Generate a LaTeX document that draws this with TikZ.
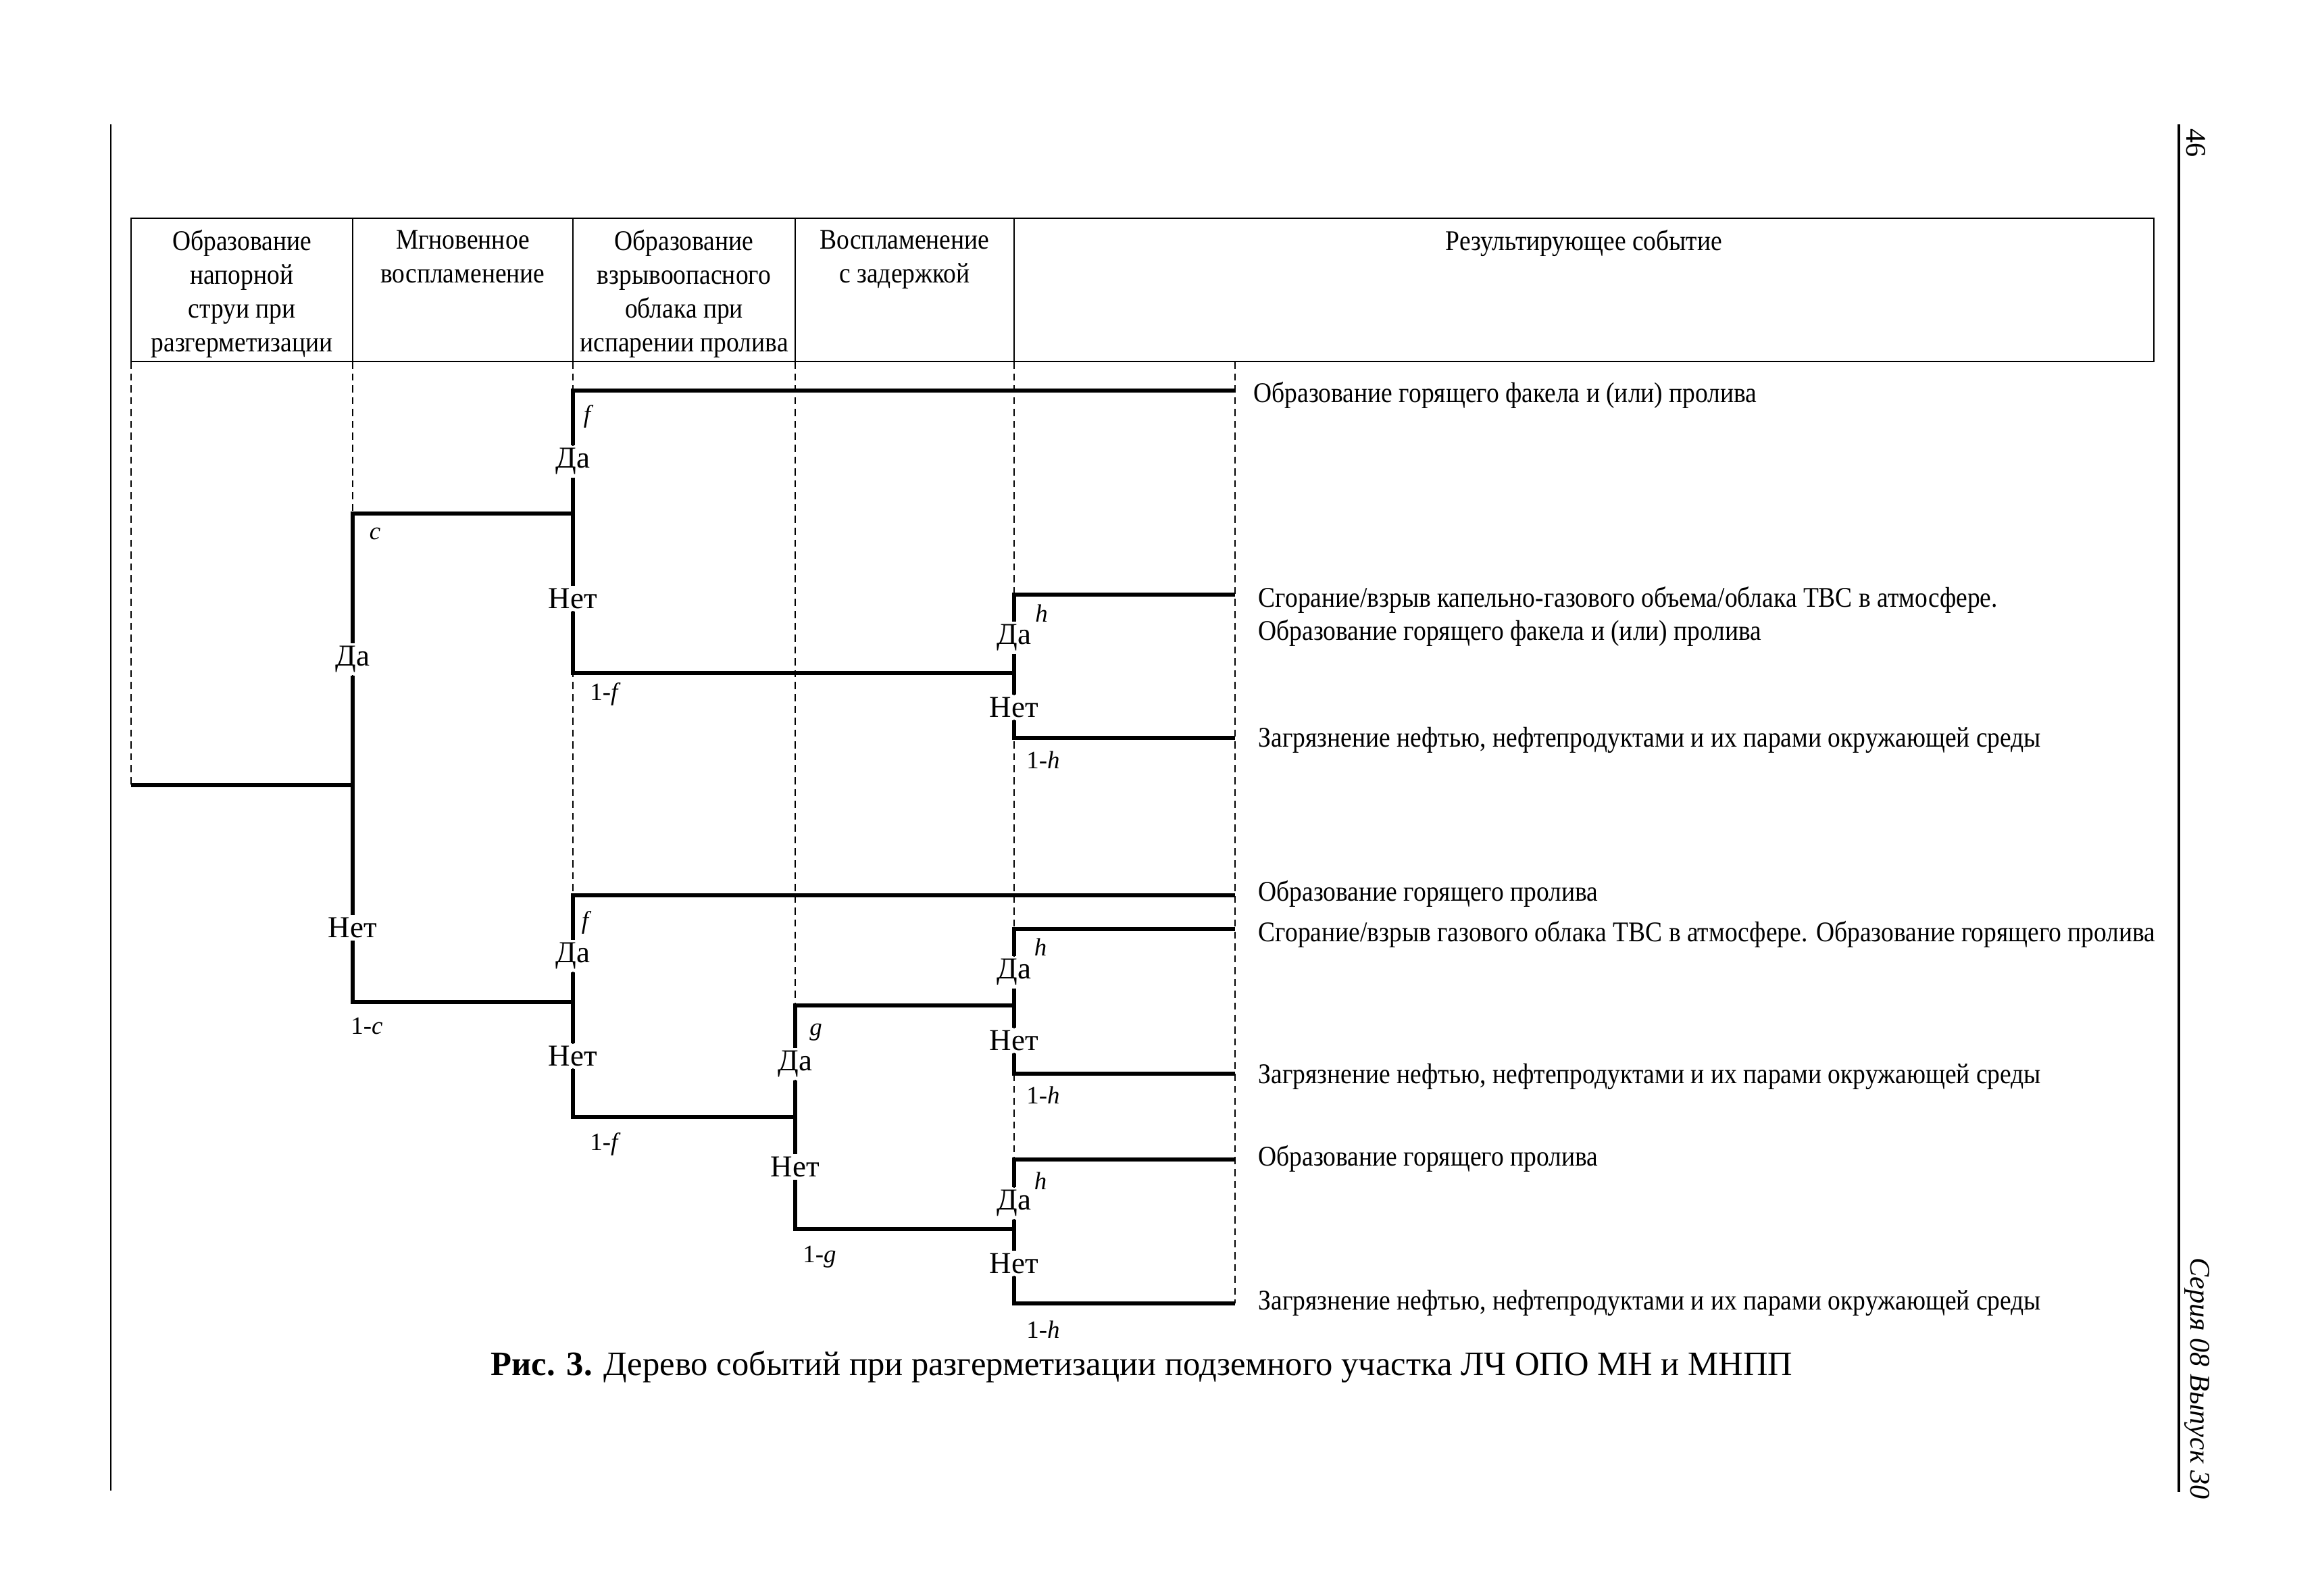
\documentclass[tikz,border=0pt]{standalone}
\usepackage{fontspec}
\setmainfont{Liberation Serif}
\newfontfamily\narrowfont[FakeStretch=0.89]{Liberation Serif}
\usetikzlibrary{positioning}

\begin{document}
\begin{tikzpicture}
        \tikzset{every node/.style = {inner sep=1pt, font=\fontsize{12pt}{14.2pt}\selectfont},
                 branch/.style = {line width=1.5pt},
                 grid/.style = {dash pattern=on 3pt off 2pt, line width=0.4pt},
                 frame/.style = {line width=0.75pt},
                 answer/.style = {fill=white, font=\fontsize{12.8pt}{15pt}\selectfont},
                 prob/.style = {font=\fontsize{10.5pt}{12pt}\selectfont},
                 result/.style = {anchor=base west, inner sep=0pt, align=left, font=\narrowfont\fontsize{12pt}{14.2pt}\selectfont},
                 head/.style = {anchor=north, inner sep=0pt, align=center, font=\narrowfont\fontsize{12pt}{14.2pt}\selectfont}}

        \useasboundingbox (0,0) rectangle (34.25,-23.62);

        \draw[line width=0.8pt] (1.64,-1.84) -- (1.64,-22.06);
        \draw[line width=0.9pt] (32.25,-1.84) -- (32.25,-22.08);
        \node[rotate=-90] (page) at (32.50,-2.12) {46};
        \node[rotate=-90, font=\fontsize{12pt}{14pt}\selectfont\itshape] (series) at (32.52,-20.40) {Серия 08 Выпуск 30};

        \draw[frame] (1.94,-3.23) rectangle (31.88,-5.35);
        \foreach \x in {5.22, 8.48, 11.77, 15.01}
            \draw[frame] (\x,-3.23) -- (\x,-5.35);

        \node[head] (h1) at (3.58,-3.40) {Образование\\напорной\\струи при\\разгерметизации};
        \node[head] (h2) at (6.85,-3.40) {Мгновенное\\воспламенение};
        \node[head] (h3) at (10.125,-3.40) {Образование\\взрывоопасного\\облака при\\испарении пролива};
        \node[head] (h4) at (13.39,-3.40) {Воспламенение\\с задержкой};
        \node[head] (h5) at (23.445,-3.40) {Результирующее событие};

        \draw[grid] (1.94,-5.35) -- (1.94,-11.62);
        \draw[grid] (5.22,-5.35) -- (5.22,-14.83);
        \draw[grid] (8.48,-5.35) -- (8.48,-16.53);
        \draw[grid] (11.77,-5.35) -- (11.77,-18.19);
        \draw[grid] (15.01,-5.35) -- (15.01,-19.29);
        \draw[grid] (18.28,-5.35) -- (18.28,-19.29);

        \coordinate (s) at (1.94,-11.62);
        \coordinate (a) at (5.22,-11.62);
        \coordinate (a-y) at (5.22,-7.60);
        \coordinate (a-n) at (5.22,-14.83);
        \node[answer] (a-da) at (5.22,-9.76) {Да};
        \node[answer] (a-net) at (5.22,-13.73) {Нет};

        \coordinate (b1) at (8.48,-7.60);
        \coordinate (b1-y) at (8.48,-5.78);
        \coordinate (b1-n) at (8.48,-9.96);
        \node[answer] (b1-da) at (8.48,-6.83) {Да};
        \node[answer] (b1-net) at (8.48,-8.86) {Нет};

        \coordinate (d1) at (15.01,-9.96);
        \coordinate (d1-y) at (15.01,-8.80);
        \coordinate (d1-n) at (15.01,-10.92);
        \node[answer] (d1-da) at (15.01,-9.44) {Да};
        \node[answer] (d1-net) at (15.01,-10.47) {Нет};

        \coordinate (b2) at (8.48,-14.83);
        \coordinate (b2-y) at (8.48,-13.25);
        \coordinate (b2-n) at (8.48,-16.53);
        \node[answer] (b2-da) at (8.48,-14.15) {Да};
        \node[answer] (b2-net) at (8.48,-15.63) {Нет};

        \coordinate (c) at (11.77,-16.53);
        \coordinate (c-y) at (11.77,-14.88);
        \coordinate (c-n) at (11.77,-18.19);
        \node[answer] (c-da) at (11.77,-15.75) {Да};
        \node[answer] (c-net) at (11.77,-17.27) {Нет};

        \coordinate (d2) at (15.01,-14.88);
        \coordinate (d2-y) at (15.01,-13.75);
        \coordinate (d2-n) at (15.01,-15.89);
        \node[answer] (d2-da) at (15.01,-14.39) {Да};
        \node[answer] (d2-net) at (15.01,-15.40) {Нет};

        \coordinate (d3) at (15.01,-18.19);
        \coordinate (d3-y) at (15.01,-17.16);
        \coordinate (d3-n) at (15.01,-19.29);
        \node[answer] (d3-da) at (15.01,-17.81) {Да};
        \node[answer] (d3-net) at (15.01,-18.70) {Нет};

        \coordinate (e1) at (18.28,-5.78);
        \coordinate (e2) at (18.28,-8.80);
        \coordinate (e3) at (18.28,-10.92);
        \coordinate (e4) at (18.28,-13.25);
        \coordinate (e5) at (18.28,-13.75);
        \coordinate (e6) at (18.28,-15.89);
        \coordinate (e7) at (18.28,-17.16);
        \coordinate (e8) at (18.28,-19.29);

        \draw[branch] (s) -- (a);
        \draw[branch] (b1) -- (a-y) -- (a-da) -- (a-net) -- (a-n) -- (b2);
        \draw[branch] (e1) -- (b1-y) -- (b1-da) -- (b1-net) -- (b1-n) -- (d1);
        \draw[branch] (e2) -- (d1-y) -- (d1-da) -- (d1-net) -- (d1-n) -- (e3);
        \draw[branch] (e4) -- (b2-y) -- (b2-da) -- (b2-net) -- (b2-n) -- (c);
        \draw[branch] (d2) -- (c-y) -- (c-da) -- (c-net) -- (c-n) -- (d3);
        \draw[branch] (e5) -- (d2-y) -- (d2-da) -- (d2-net) -- (d2-n) -- (e6);
        \draw[branch] (e7) -- (d3-y) -- (d3-da) -- (d3-net) -- (d3-n) -- (e8);

        \node[prob] (pc) at (5.55,-7.90) {\textit{c}};
        \node[prob] (qc) at (5.43,-15.18) {1-\textit{c}};
        \node[prob] (pf1) at (8.71,-6.16) {\textit{f}};
        \node[prob] (qf1) at (8.96,-10.27) {1-\textit{f}};
        \node[prob] (ph1) at (15.415,-9.08) {\textit{h}};
        \node[prob] (qh1) at (15.44,-11.25) {1-\textit{h}};
        \node[prob] (pf2) at (8.68,-13.65) {\textit{f}};
        \node[prob] (qf2) at (8.96,-16.93) {1-\textit{f}};
        \node[prob] (pg) at (12.075,-15.275) {\textit{g}};
        \node[prob] (qg) at (12.13,-18.60) {1-\textit{g}};
        \node[prob] (ph2) at (15.40,-14.02) {\textit{h}};
        \node[prob] (qh2) at (15.44,-16.21) {1-\textit{h}};
        \node[prob] (ph3) at (15.40,-17.48) {\textit{h}};
        \node[prob] (qh3) at (15.44,-19.68) {1-\textit{h}};

        \node[result] (r1) at (18.55,-5.96) {Образование горящего факела и (или) пролива};
        \node[result] (r2) at (18.62,-9.48) {Сгорание/взрыв капельно-газового объема/облака ТВС в атмосфере.\\Образование горящего факела и (или) пролива};
        \node[result] (r3) at (18.62,-11.06) {Загрязнение нефтью, нефтепродуктами и их парами окружающей среды};
        \node[result] (r4) at (18.62,-13.34) {Образование горящего пролива};
        \node[result] (r5) at (18.62,-13.93) {Сгорание/взрыв газового облака ТВС в атмосфере. Образование горящего пролива};
        \node[result] (r6) at (18.62,-16.03) {Загрязнение нефтью, нефтепродуктами и их парами окружающей среды};
        \node[result] (r7) at (18.62,-17.25) {Образование горящего пролива};
        \node[result] (r8) at (18.62,-19.38) {Загрязнение нефтью, нефтепродуктами и их парами окружающей среды};

        \node[font=\fontsize{14.4pt}{17pt}\selectfont] (cap) at (16.90,-20.23) {\textbf{Рис. 3.} Дерево событий при разгерметизации подземного участка ЛЧ ОПО МН и МНПП};

    \end{tikzpicture}
\end{document}
